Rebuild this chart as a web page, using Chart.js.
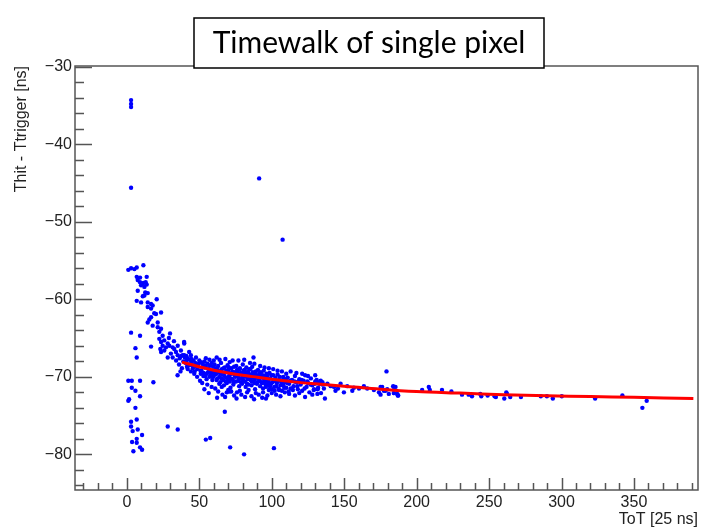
<!DOCTYPE html>
<html>
<head>
<meta charset="utf-8">
<script src="https://cdn.jsdelivr.net/npm/chart.js@4.4.1/dist/chart.umd.min.js"></script>
<style>
  html, body { margin: 0; padding: 0; background: #fff; }
  #grafico { display: block; }
</style>
</head>
<body>
<canvas id="grafico" width="705" height="528"></canvas>
<script>
const chartTitle = 'Timewalk of single pixel';
const xTitle = 'ToT [25 ns]';
const yTitle = 'Thit - Ttrigger [ns]';

const xTicks = [0, 50, 100, 150, 200, 250, 300, 350];
const yTicks = [-30, -40, -50, -60, -70, -80];

// fit curve
const fitToT = [38, 45, 52, 60, 70, 80, 90, 100, 115, 130, 150, 175, 200, 230, 260, 290, 320, 350, 391];
const fitDt = [-68.1, -68.45, -68.8, -69.15, -69.5, -69.8, -70.05, -70.3, -70.65, -70.9, -71.2, -71.6, -71.9, -72.1, -72.3, -72.45, -72.55, -72.65, -72.8];

// hits: [ToT, Thit - Ttrigger]
const farHits = [
  [2.9, -34.3], [2.9, -34.8], [2.9, -35.2], [2.9, -45.6], [91.3, -44.4], [107.5, -52.3]
];

const earlyHits = [
  [1.0, -56.2], [2.9, -56.0], [5.2, -56.1], [6.8, -55.9], [11.4, -55.6],
  [6.8, -57.1], [9.1, -57.2], [13.7, -57.1],
  [7.5, -57.5], [9.1, -57.8], [11.4, -57.9], [13.0, -57.8], [13.7, -58.1],
  [9.8, -58.2], [12.1, -58.4],
  [7.5, -58.9], [12.7, -59.1], [14.4, -59.2], [12.1, -59.5], [11.0, -59.6],
  [6.8, -60.2], [9.8, -60.4], [14.4, -60.4], [16.7, -60.6], [20.6, -60.0], [17.8, -60.8],
  [14.4, -61.0], [16.7, -61.2], [18.9, -61.8], [23.6, -61.7], [20.1, -61.9],
  [16.7, -62.3], [15.5, -62.6], [14.4, -63.0], [17.8, -63.4], [21.3, -63.0], [21.3, -63.6], [23.6, -63.8],
  [9.1, -64.7], [16.7, -66.1], [22.4, -64.2], [24.7, -64.7], [29.8, -64.4],
  [22.4, -65.1], [23.6, -65.5], [25.8, -65.3], [24.7, -66.0], [27.0, -66.2], [28.2, -65.7], [23.1, -66.4], [25.8, -66.6], [23.6, -66.8],
  [29.3, -66.0], [31.6, -66.2], [32.7, -66.4], [35.1, -66.0], [33.9, -66.8], [30.4, -67.0], [28.2, -67.5], [31.6, -67.5],
  [39.6, -65.7], [37.3, -66.6], [35.1, -67.2], [43.0, -66.8], [39.6, -67.2], [44.2, -67.2], [47.7, -67.5],
  [32.5, -65.4], [29.0, -65.0]
];

const columnHits = [
  [2.9, -64.3], [5.9, -66.3], [6.8, -67.5],
  [1.0, -70.5], [3.4, -70.5], [9.1, -70.5], [18.3, -70.7],
  [3.4, -71.4], [5.9, -71.8], [9.1, -72.5], [1.0, -73.1], [1.5, -72.9], [5.9, -74.0],
  [6.8, -75.5], [2.9, -75.8], [2.9, -76.4], [7.5, -76.8], [10.5, -77.5], [6.8, -78.0],
  [3.6, -78.4], [6.8, -78.5], [9.1, -79.1], [10.5, -79.4], [4.5, -79.6], [4.0, -77.0]
];

const bandHits = [
  [37.5, -67.3], [38.5, -67.2], [40, -67.5], [41, -67.3], [42, -67.6], [43.5, -67.8], [44.5, -67.7], [40.5, -68.2],
  [38, -68.9], [37, -69.3], [35, -69.8], [42, -69.0], [47.5, -68.6], [48.5, -69.0], [46.5, -69.6], [48.5, -70.0],
  [51, -69.6], [44.5, -68.1], [39, -68.0], [36, -68.4], [45.5, -68.9], [43, -68.5], [49.5, -68.3], [50, -67.9],
  [41.5, -68.7], [46, -67.9], [52, -68.2], [36.5, -67.6], [34, -67.9], [39.5, -65.5],
  [51, -68.1], [52.5, -68.4], [53.5, -68.0], [54.5, -68.6], [55.5, -68.3], [56.5, -68.9], [57.5, -68.5], [58.5, -68.2],
  [59.5, -68.7], [51.5, -69.2], [53, -69.5], [54, -69.9], [55, -70.3], [56, -69.4], [57, -70.0], [58, -69.7],
  [59, -70.4], [60, -69.3], [52, -70.8], [55.5, -71.0], [58.5, -71.3], [50.5, -70.5], [53.5, -71.6], [56.5, -72.1],
  [54.5, -67.6], [57, -67.8], [60, -67.9],
  [60.5, -68.4], [61.5, -68.9], [62, -69.6], [62.5, -70.2], [63, -68.6], [63.5, -69.3], [64, -70.0], [64.5, -70.7],
  [65, -68.2], [65.5, -69.0], [66, -69.7], [66.5, -70.4], [67, -71.1], [67.5, -68.8], [68, -69.4], [68.5, -70.1],
  [69, -70.8], [69.5, -68.5], [70, -69.2], [70.5, -69.9], [71, -70.6], [71.5, -71.4], [72, -68.9], [72.5, -69.6],
  [73, -70.3], [73.5, -71.0], [74, -68.7], [74.5, -69.4], [75, -70.0], [61, -71.5], [63, -71.9], [66, -72.3],
  [69, -72.0], [72, -71.9], [74, -72.4], [64, -67.8], [68, -67.7], [71, -68.1], [62, -67.5], [73, -67.9],
  [70, -71.7], [65.5, -71.3],
  [75.5, -68.6], [76, -69.1], [76.5, -69.8], [77, -70.5], [77.5, -71.2], [78, -68.9], [78.5, -69.5], [79, -70.2],
  [79.5, -70.9], [80, -68.4], [80.5, -69.2], [81, -69.9], [81.5, -70.6], [82, -71.3], [82.5, -68.8], [83, -69.6],
  [83.5, -70.3], [84, -71.0], [84.5, -69.0], [85, -69.7], [85.5, -70.4], [86, -71.1], [86.5, -68.7], [87, -69.4],
  [87.5, -70.1], [88, -70.8], [88.5, -71.6], [89, -69.3], [89.5, -70.0], [90, -70.7], [76, -72.0], [79, -72.3],
  [83, -72.0], [86, -72.5], [89, -72.1], [77, -67.9], [81, -67.8], [85, -68.2], [88, -68.3], [78, -71.8],
  [84, -71.7], [80, -70.0], [86, -69.9], [82, -69.4],
  [90.5, -69.1], [91, -69.8], [91.5, -70.5], [92, -71.2], [92.5, -69.4], [93, -70.1], [93.5, -70.8], [94, -71.5],
  [94.5, -69.2], [95, -69.9], [95.5, -70.6], [96, -71.3], [96.5, -69.6], [97, -70.3], [97.5, -71.0], [98, -71.7],
  [98.5, -69.5], [99, -70.2], [99.5, -70.9], [100, -71.6], [101, -69.8], [102, -70.5], [103, -71.2], [104, -69.7],
  [105, -70.4], [106, -71.1], [107, -71.8], [108, -70.0], [109, -70.7], [110, -71.4], [91, -72.3], [94, -72.0],
  [97, -72.4], [100, -72.1], [103, -72.3], [106, -72.5], [109, -72.0], [92, -68.6], [95, -68.8], [98, -68.9],
  [101, -69.0], [104, -69.2], [107, -69.3], [110, -69.6], [96, -72.8], [102, -71.8], [105, -71.7], [108, -71.1],
  [93, -70.0], [99, -71.0],
  [111, -70.1], [112, -70.9], [113, -71.5], [114, -70.4], [115, -71.2], [116, -69.9], [117, -70.7], [118, -71.6],
  [119, -70.3], [120, -71.0], [121, -71.8], [122, -70.5], [123, -69.8], [124, -71.3], [125, -70.8], [126, -72.0],
  [127, -70.2], [128, -71.1], [129, -71.7], [130, -70.6], [131, -70.4], [132, -71.4], [133, -70.9], [134, -72.1],
  [135, -70.7], [112, -72.2], [116, -72.4], [119, -72.1], [123, -72.6], [128, -72.3], [117, -69.5], [121, -69.6],
  [125, -69.9], [113, -69.3], [130, -69.8], [136, -71.5]
];

// extra hits filling the dense core of the band
const coreHits = [
  [60.8, -69.7], [61.9, -70.4], [62.7, -69.1], [63.8, -70.9], [64.3, -69.5], [65.2, -70.2], [66.7, -68.9],
  [67.3, -69.9], [68.2, -70.6], [68.9, -69.2], [69.8, -70.4], [70.3, -68.8], [71.2, -69.6], [71.9, -70.2],
  [72.8, -69.3], [73.7, -70.7], [74.6, -69.9], [75.3, -70.6], [76.3, -69.4], [77.2, -70.1], [77.9, -69.0],
  [78.8, -70.7], [79.7, -69.6], [80.3, -70.4], [81.3, -69.1], [82.2, -70.0], [82.9, -70.9], [83.8, -69.3],
  [84.7, -70.2], [85.3, -69.0], [86.2, -70.6], [87.3, -69.8], [88.2, -70.3], [88.9, -69.6], [89.8, -70.9],
  [90.7, -70.2], [91.8, -69.5], [92.8, -70.7], [93.8, -69.8], [94.8, -70.4], [95.7, -71.0], [96.8, -69.9],
  [97.8, -70.6], [98.7, -71.2], [99.8, -69.8], [100.6, -70.7], [101.7, -71.3], [102.6, -70.1], [103.6, -70.8],
  [104.7, -71.5], [105.6, -70.0], [106.6, -70.7], [107.7, -70.4], [108.6, -71.4], [109.6, -70.3], [110.7, -70.8],
  [111.6, -71.9], [112.7, -70.5], [114.6, -71.7], [115.7, -70.6], [117.6, -71.2], [118.7, -70.6], [120.6, -70.4],
  [122.7, -71.5], [124.6, -70.6], [126.7, -71.0], [129.7, -70.9], [131.7, -71.6], [133.8, -70.5],
  [56.8, -69.1], [57.8, -69.9], [58.7, -69.4], [59.8, -70.0], [53.8, -68.8], [55.2, -69.6], [52.8, -69.9],
  [50.8, -69.2], [49.2, -68.7], [47.2, -68.2], [45.3, -68.5], [46.8, -69.3], [44.2, -69.3], [42.8, -68.4],
  [41.2, -67.9], [62.3, -72.7], [67.8, -72.6], [75.7, -72.8], [81.6, -72.6], [87.8, -72.9], [93.4, -72.7]
];

const tailHits = [
  [132.6, -70.7], [134.9, -71.0], [138.4, -70.9], [140.7, -71.2], [143.0, -71.3], [145.7, -71.5], [147.5, -70.9],
  [152.1, -71.2], [155.6, -71.8], [156.7, -71.4], [163.6, -71.2], [165.9, -71.5], [174.0, -72.0], [176.2, -71.3],
  [179.7, -71.6], [184.3, -72.1], [186.6, -72.2], [129.2, -71.6], [131.5, -72.2], [144.0, -71.8], [149.8, -72.0],
  [160.2, -71.5], [170.5, -71.7], [177.4, -71.8],
  [175.1, -71.3], [178.5, -71.8], [180.8, -72.2], [183.8, -71.2], [185.4, -71.3], [187.0, -72.4], [184.3, -72.1],
  [203.8, -71.7], [208.4, -71.3], [209.1, -71.7], [217.5, -71.7], [224.0, -71.9], [231.3, -72.3], [235.9, -72.3],
  [238.2, -72.5], [243.9, -72.2], [244.6, -72.5], [249.0, -72.4], [253.8, -72.5], [254.7, -72.6], [260.5, -72.8],
  [261.9, -72.0], [262.3, -72.2], [264.6, -72.6], [272.0, -72.6], [285.7, -72.5], [289.9, -72.5], [294.0, -72.8],
  [300.2, -72.5], [323.2, -72.8], [342.0, -72.4]
];

const strayHits = [
  [28.2, -76.4], [35.1, -76.8], [54.5, -78.1], [57.5, -77.9], [67.6, -74.5], [70.6, -71.9], [71.3, -79.1],
  [80.9, -80.0], [101.5, -79.2], [87.4, -67.5], [136.7, -72.8], [179.2, -69.3], [187.3, -72.4],
  [175.1, -72.3], [184.2, -71.3], [355.8, -74.0], [358.8, -73.1]
];

const allHits = [].concat(farHits, earlyHits, columnHits, bandHits, coreHits, tailHits, strayHits)
  .map(([x, y]) => ({ x, y }));
const fitPoints = fitToT.map((x, i) => ({ x, y: fitDt[i] }));

const minus = v => String(v).replace('-', '\u2212');

// marco estilo ROOT: ticks hacia dentro, caja del titulo
const marcoRoot = {
  id: 'marcoRoot',
  afterDraw(chart) {
    const { ctx, chartArea: a, scales: { x, y } } = chart;
    ctx.save();
    ctx.strokeStyle = '#555';
    ctx.lineWidth = 1.5;
    ctx.strokeRect(a.left, a.top, a.right - a.left, a.bottom - a.top);
    ctx.beginPath();
    for (let v = -84; v <= -30; v += 2) {
      const py = Math.round(y.getPixelForValue(v)) + 0.5;
      const len = v % 10 === 0 ? 17 : 9;
      ctx.moveTo(a.left, py);
      ctx.lineTo(a.left + len, py);
    }
    for (let v = -30; v <= 390; v += 10) {
      const px = Math.round(x.getPixelForValue(v)) + 0.5;
      const len = v % 50 === 0 ? 12 : 7;
      ctx.moveTo(px, a.bottom);
      ctx.lineTo(px, a.bottom - len);
    }
    ctx.stroke();

    ctx.fillStyle = '#fff';
    ctx.fillRect(194, 18, 350, 50);
    ctx.strokeStyle = '#000';
    ctx.lineWidth = 1.5;
    ctx.strokeRect(194, 18, 350, 50);
    ctx.fillStyle = '#000';
    ctx.font = '30px Lato';
    ctx.textAlign = 'center';
    ctx.textBaseline = 'middle';
    ctx.fillText(chartTitle, 369, 43);
    ctx.restore();
  }
};

const tickFont = { family: 'Liberation Sans', size: 16 };

new Chart(document.getElementById('grafico').getContext('2d'), {
  type: 'scatter',
  data: {
    datasets: [
      {
        label: 'fit',
        data: fitPoints,
        showLine: true,
        borderColor: '#ff0000',
        borderWidth: 3,
        pointRadius: 0,
        tension: 0.3
      },
      {
        label: 'hits',
        data: allHits,
        backgroundColor: '#0000ff',
        borderWidth: 0,
        pointRadius: 2.2
      }
    ]
  },
  options: {
    responsive: false,
    animation: false,
    devicePixelRatio: 1,
    layout: { padding: { left: 0, right: 7, top: 66, bottom: 0 } },
    plugins: {
      legend: { display: false },
      tooltip: { enabled: false }
    },
    scales: {
      x: {
        type: 'linear',
        min: -35.8,
        max: 394.2,
        grid: { display: false, drawTicks: false },
        border: { display: false },
        afterBuildTicks: s => { s.ticks = xTicks.map(v => ({ value: v })); },
        afterFit: s => { s.height = 38; },
        ticks: { font: tickFont, color: '#222', padding: 3, maxRotation: 0, callback: minus },
        title: {
          display: true, text: xTitle, align: 'end', color: '#222',
          font: { family: 'Liberation Sans', size: 16, lineHeight: 1 },
          padding: { top: 0, bottom: 0 }
        }
      },
      y: {
        type: 'linear',
        min: -84.6,
        max: -29.9,
        grid: { display: false, drawTicks: false },
        border: { display: false },
        afterBuildTicks: s => { s.ticks = yTicks.map(v => ({ value: v })); },
        afterFit: s => { s.width = 75; },
        ticks: { font: tickFont, color: '#222', padding: 3, callback: minus },
        title: {
          display: true, text: yTitle, align: 'end', color: '#222',
          font: { family: 'Liberation Sans', size: 16, lineHeight: 1.2 },
          padding: { top: 12, bottom: 0 }
        }
      }
    }
  },
  plugins: [marcoRoot]
});
</script>
</body>
</html>
